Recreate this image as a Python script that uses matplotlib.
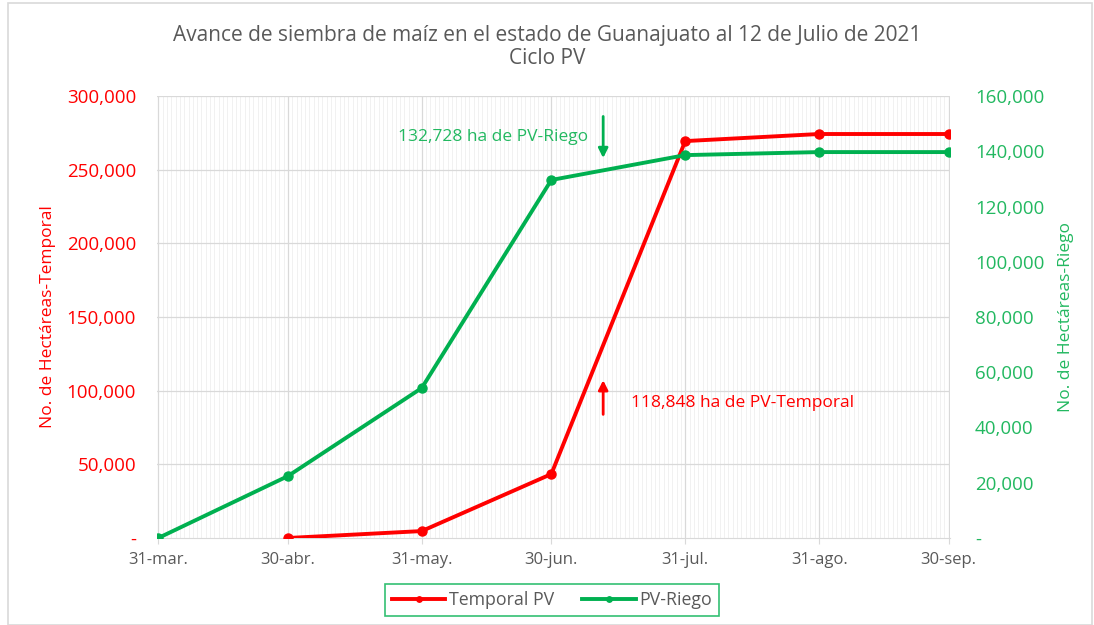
#!/usr/bin/env python3

import numpy as np
import matplotlib
matplotlib.use('Agg')
import matplotlib.pyplot as plt
import matplotlib.dates as mdates
from matplotlib.patches import Rectangle

plt.rcParams['font.family'] = ['Open Sans', 'DejaVu Sans']

# data
temporal_dates = ['2021-04-30', '2021-05-31', '2021-06-30', '2021-07-31', '2021-08-31', '2021-09-30']
temporal_vals = [0, 4700, 43400, 269400, 274200, 274200]
riego_dates = ['2021-03-31', '2021-04-30', '2021-05-31', '2021-06-30', '2021-07-31', '2021-08-31', '2021-09-30']
riego_vals = [0, 22400, 54300, 129600, 138600, 139700, 139700]
tick_dates = ['2021-03-31', '2021-04-30', '2021-05-31', '2021-06-30', '2021-07-31', '2021-08-31', '2021-09-30']
tick_labels = ['31-mar.', '30-abr.', '31-may.', '30-jun.', '31-jul.', '31-ago.', '30-sep.']
left_ticks = [0, 50000, 100000, 150000, 200000, 250000, 300000]
right_ticks = [0, 20000, 40000, 60000, 80000, 100000, 120000, 140000, 160000]
cutoff_date = '2021-07-12'

RED = '#FF0000'
GREEN = '#00B050'
GREEN_TXT = '#22B860'
GRAY_TXT = '#595959'

def to_num(ds):
    return mdates.datestr2num(ds)

fig = plt.figure(figsize=(10.94, 6.25), dpi=100, facecolor='white')
ax = fig.add_axes([157/1094, 1-538/625, (950-157)/1094, (538-96)/625])
ax2 = ax.twinx()

x0 = to_num('2021-03-31')
x1 = to_num('2021-09-30')

# daily light gridlines
days = np.arange(x0, x1 + 1)
for d in days:
    ax.axvline(d, color='#EFEFEF', lw=0.6, zorder=0)
for t in to_num(tick_dates):
    ax.axvline(t, color='#D9D9D9', lw=0.9, zorder=0.5)
for v in left_ticks[1:]:
    ax.axhline(v, color='#D9D9D9', lw=0.9, zorder=0.5)

ax.plot(to_num(temporal_dates), temporal_vals, color=RED, lw=2.8, marker='o', ms=6.5,
        label='Temporal PV', zorder=3)
ax2.plot(to_num(riego_dates), riego_vals, color=GREEN, lw=2.8, marker='o', ms=6.5,
         label='PV-Riego', zorder=3)

ax.set_xlim(x0 - 0.3, x1 + 0.3)
ax.set_ylim(0, 300000)
ax2.set_ylim(0, 160000)

ax.set_xticks(to_num(tick_dates))
ax.set_xticklabels(tick_labels, color=GRAY_TXT, fontsize=12)
ax.set_yticks(left_ticks)
ax.set_yticklabels(['-'] + [f'{v:,}' for v in left_ticks[1:]], color=RED, fontsize=13.5)
ax2.set_yticks(right_ticks)
ax2.set_yticklabels(['-'] + [f'{v:,}' for v in right_ticks[1:]], color=GREEN_TXT, fontsize=13.5)

ax.tick_params(axis='y', length=0, pad=15)
ax2.tick_params(axis='y', length=0, pad=18)
ax.tick_params(axis='x', length=4, color='#D9D9D9', pad=6)

for a in (ax, ax2):
    for s in a.spines.values():
        s.set_visible(False)
ax.spines['bottom'].set_visible(True)
ax.spines['bottom'].set_color('#D9D9D9')

ax.set_ylabel('No. de Hectáreas-Temporal', color=RED, fontsize=12.5, labelpad=8)
ax2.set_ylabel('No. de Hectáreas-Riego', color=GREEN_TXT, fontsize=12.5, labelpad=10)

fig.text(0.5, 1-47/625, 'Avance de siembra de maíz en el estado de Guanajuato al 12 de Julio de 2021\nCiclo PV',
         ha='center', va='center', color=GRAY_TXT, fontsize=15, linespacing=1.15)

# annotations at the cutoff date
xc = to_num(cutoff_date)
ax.annotate('', xy=(xc, 256000), xytext=(xc, 288000),
            arrowprops=dict(arrowstyle='-|>', color=GREEN, lw=2, mutation_scale=14))
ax.text(xc - 3.5, 272000, '132,728 ha de PV-Riego', color=GREEN_TXT, fontsize=12.5,
        ha='right', va='center')
ax.annotate('', xy=(xc, 109000), xytext=(xc, 82000),
            arrowprops=dict(arrowstyle='-|>', color=RED, lw=2, mutation_scale=14))
ax.text(xc + 6.5, 91500, '118,848 ha de PV-Temporal', color=RED, fontsize=12.5,
        ha='left', va='center')

h1, l1 = ax.get_legend_handles_labels()
h2, l2 = ax2.get_legend_handles_labels()
leg = fig.legend(h1 + h2, l1 + l2, loc='center', bbox_to_anchor=(552/1094, 1-600/625),
                 ncol=2, fontsize=12.8, frameon=True, fancybox=False, markerscale=0.6,
                 handlelength=3, columnspacing=1.6, borderpad=0.4, handletextpad=0.2)
leg.get_frame().set_edgecolor(GREEN)
leg.get_frame().set_linewidth(1.2)
for t in leg.get_texts():
    t.set_color(GRAY_TXT)

# outer chart border
fig.patches.append(Rectangle((8/1094, 0), 1 - 8/1094 - 0.002, 1 - 3/625, transform=fig.transFigure,
                             fill=False, edgecolor='#D9D9D9', lw=1.2))

fig.savefig('out.png', dpi=100, facecolor=fig.get_facecolor())
